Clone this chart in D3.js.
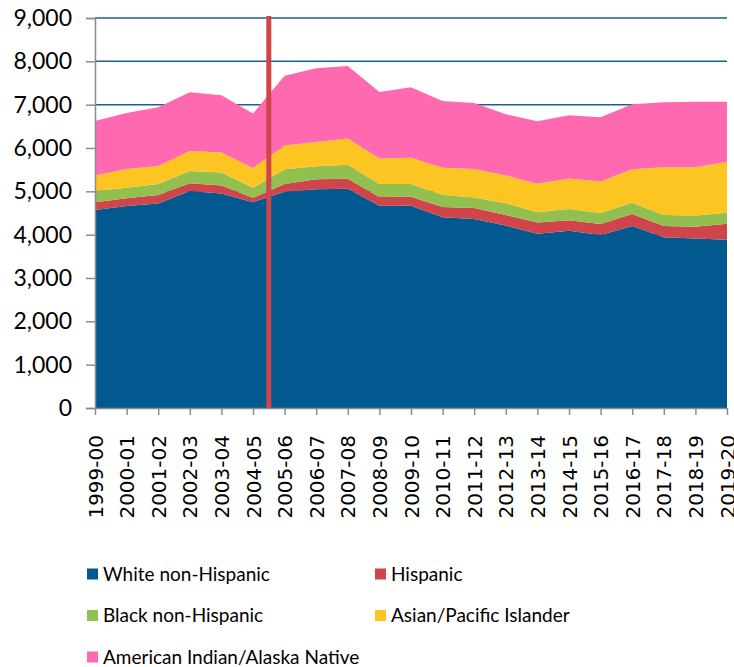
<!DOCTYPE html>
<html>
<head>
<meta charset="utf-8">
<script src="https://cdn.jsdelivr.net/npm/d3@7"></script>
<style>
  body { margin: 0; background: #fff; }
  svg { display: block; }
</style>
</head>
<body>
<div id="chart"></div>
<script>
// school years on the x axis
const years = ["1999-00", "2000-01", "2001-02", "2002-03", "2003-04", "2004-05", "2005-06",
  "2006-07", "2007-08", "2008-09", "2009-10", "2010-11", "2011-12", "2012-13", "2013-14",
  "2014-15", "2015-16", "2016-17", "2017-18", "2018-19", "2019-20"];

// values, one array per group
const white = [4570, 4660, 4720, 5010, 4950, 4750, 4990, 5050, 5060, 4670, 4670, 4400, 4360, 4210, 4020, 4090, 3990, 4200, 3940, 3910, 3880];
const hispanic = [180, 180, 195, 175, 185, 100, 180, 230, 230, 200, 205, 240, 255, 245, 260, 245, 255, 275, 260, 275, 370];
const black = [260, 245, 255, 285, 300, 230, 340, 300, 325, 300, 295, 275, 245, 270, 240, 255, 255, 260, 255, 255, 255];
const asian = [355, 430, 415, 460, 460, 460, 545, 560, 605, 590, 605, 630, 655, 640, 655, 705, 725, 775, 1100, 1115, 1175];
const aian = [1260, 1290, 1355, 1355, 1320, 1255, 1610, 1700, 1670, 1530, 1625, 1540, 1525, 1415, 1440, 1460, 1485, 1500, 1500, 1510, 1385];

const seriesNames = ["White non-Hispanic", "Hispanic", "Black non-Hispanic", "Asian/Pacific Islander", "American Indian/Alaska Native"];
const seriesValues = [white, hispanic, black, asian, aian];
const colors = ["#02598f", "#d0454c", "#92c050", "#fdc521", "#ff69b0"];
const yTicks = [0, 1000, 2000, 3000, 4000, 5000, 6000, 7000, 8000, 9000];

const W = 734, H = 667;
const margin = { left: 95, right: 7, top: 18, bottom: 259 };
const width = W - margin.left - margin.right,
  height = H - margin.top - margin.bottom;

// build rows for d3.stack
const rows = years.map((yr, i) => {
  const r = { year: yr };
  seriesNames.forEach((s, j) => { r[s] = seriesValues[j][i]; });
  return r;
});

const svg = d3.select("#chart")
  .append("svg")
  .attr("width", W)
  .attr("height", H);

const g = svg.append("g")
  .attr("transform", "translate(" + margin.left + "," + margin.top + ")");

const x = d3.scalePoint()
  .domain(years)
  .range([0, width]);

const y = d3.scaleLinear()
  .domain([0, 9000])
  .range([height, 0]);

// gridlines (sit behind the areas)
g.selectAll(".grid")
  .data(yTicks.filter(d => d > 0))
  .enter()
  .append("line")
  .attr("x1", 0).attr("x2", width)
  .attr("y1", d => y(d)).attr("y2", d => y(d))
  .attr("stroke", "#1d5f93")
  .attr("stroke-width", 1.5);

const stack = d3.stack().keys(seriesNames);
const layers = stack(rows);

const area = d3.area()
  .x(d => x(d.data.year))
  .y0(d => y(d[0]))
  .y1(d => y(d[1]));

g.selectAll(".layer")
  .data(layers)
  .enter()
  .append("path")
  .attr("d", area)
  .attr("fill", (d, i) => colors[i]);

// y axis
const yAxis = g.append("g")
  .call(d3.axisLeft(y).tickValues(yTicks).tickFormat(d3.format(",")).tickSize(9).tickPadding(14));
yAxis.select(".domain").attr("stroke", "#8c8c8c").attr("stroke-width", 1.5);
yAxis.selectAll(".tick line").attr("stroke", "#8c8c8c").attr("stroke-width", 1.5);
yAxis.selectAll("text")
  .attr("font-family", "Lato, 'Open Sans', sans-serif")
  .attr("font-size", 23)
  .attr("fill", "#000");

// x axis
const xAxis = g.append("g")
  .attr("transform", "translate(0," + height + ")")
  .call(d3.axisBottom(x).tickSize(7).tickSizeOuter(0));
xAxis.select(".domain").attr("stroke", "#8c8c8c").attr("stroke-width", 1.5);
xAxis.selectAll(".tick line").attr("stroke", "#8c8c8c").attr("stroke-width", 1.5);
xAxis.selectAll("text")
  .attr("font-family", "'DejaVu Sans', sans-serif")
  .attr("font-size", 20)
  .attr("fill", "#000")
  .attr("text-anchor", "end")
  .attr("dy", "0.35em")
  .attr("transform", "translate(0,27) rotate(-90)")
  .attr("x", 0)
  .attr("y", 0);

// red marker line between 2004-05 and 2005-06
const breakX = (x("2004-05") + x("2005-06")) / 2;
g.append("line")
  .attr("x1", breakX).attr("x2", breakX)
  .attr("y1", y(9000) - 2).attr("y2", y(0))
  .attr("stroke", "#d0454c")
  .attr("stroke-width", 5);

// legend
const legend = svg.append("g");
const legItems = legend.selectAll(".leg")
  .data(seriesNames)
  .enter()
  .append("g")
  .attr("transform", (d, i) => "translate(" + (i % 2 === 0 ? 87 : 375) + "," + (574 + Math.floor(i / 2) * 41.5) + ")");
legItems.append("rect")
  .attr("x", 0).attr("y", -5.5)
  .attr("width", 11).attr("height", 11)
  .attr("fill", (d, i) => colors[i]);
legItems.append("text")
  .attr("x", 16)
  .attr("dy", "0.35em")
  .attr("font-family", "Lato, 'Open Sans', sans-serif")
  .attr("font-size", 19)
  .attr("fill", "#000")
  .text(d => d);
</script>
</body>
</html>
